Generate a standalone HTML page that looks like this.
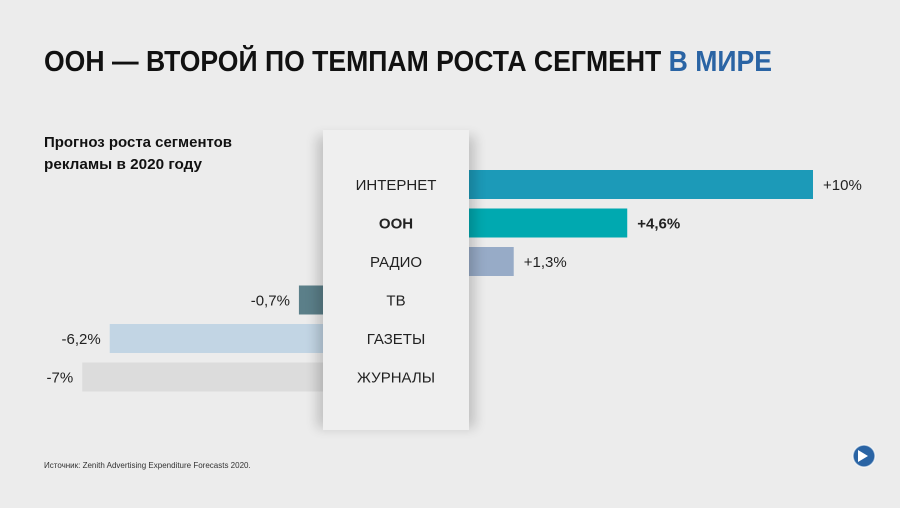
<!DOCTYPE html>
<html><head><meta charset="utf-8"><style>
body{margin:0;background:#ececec;}
svg{display:block;font-family:"Liberation Sans",sans-serif;}
</style></head><body>
<svg width="900" height="508" viewBox="0 0 900 508">
<defs><filter id="sh" x="-30%" y="-10%" width="160%" height="120%"><feGaussianBlur stdDeviation="6"/></filter></defs>
<rect width="900" height="508" fill="#ececec"/>
<text x="44" y="71" font-size="29" font-weight="bold" fill="#111" textLength="728" lengthAdjust="spacingAndGlyphs">ООН — ВТОРОЙ ПО ТЕМПАМ РОСТА СЕГМЕНТ <tspan fill="#2a64a4">В МИРЕ</tspan></text>
<text x="44" y="147" font-size="15" font-weight="bold" fill="#111" textLength="188" lengthAdjust="spacingAndGlyphs">Прогноз роста сегментов</text>
<text x="44" y="169" font-size="15" font-weight="bold" fill="#111" textLength="158" lengthAdjust="spacingAndGlyphs">рекламы в 2020 году</text>
<g id="bars"></g>
<rect x="317" y="136" width="158" height="292" fill="#000" opacity="0.18" filter="url(#sh)"/>
<rect x="323" y="130" width="146" height="300" fill="#efefef"/>
<g id="labels"></g>
<text x="44" y="468" font-size="8" fill="#333">Источник: Zenith Advertising Expenditure Forecasts 2020.</text>
<g><circle cx="864" cy="456" r="11" fill="#2a64a4"/><path d="M858 450 L868 456 L858 462 Z" fill="#fff"/><circle cx="864" cy="456" r="11" fill="none" stroke="#fff" stroke-width="1.5" opacity="0.6"/></g>
</svg>
<script>
const categories=["ИНТЕРНЕТ","ООН","РАДИО","ТВ","ГАЗЕТЫ","ЖУРНАЛЫ"];
const values=[10,4.6,1.3,-0.7,-6.2,-7];
const valueLabels=["+10%","+4,6%","+1,3%","-0,7%","-6,2%","-7%"];
const colors=["#1c9ab8","#00a9b0","#97abc7","#5b7f89","#c2d5e4","#dcdcdc"];
const NS="http://www.w3.org/2000/svg";
const scale=34.4, posZero=469, negZero=323;
const rowY=i=>170+i*38.5, barH=29;
const bars=document.getElementById('bars'), labels=document.getElementById('labels');
function mk(t,a){const e=document.createElementNS(NS,t);for(const k in a)e.setAttribute(k,a[k]);return e;}
values.forEach((v,i)=>{
  const w=Math.abs(v)*scale, y=rowY(i);
  const x=v>=0?posZero:negZero-w;
  const r=mk('rect',{x:x,y:y,width:w,height:barH,fill:colors[i]});
  
  
  bars.appendChild(r);
  const bold=i===1;
  const t=mk('text',{x:v>=0?x+w+10:x-9,y:y+20,'font-size':15,fill:'#222','text-anchor':v>=0?'start':'end','font-weight':bold?'bold':'normal'});
  t.textContent=valueLabels[i];
  
  
  bars.appendChild(t);
  const c=mk('text',{x:396,y:y+20,'font-size':15,fill:'#222','text-anchor':'middle','font-weight':bold?'bold':'normal'});
  c.textContent=categories[i];
  
  
  labels.appendChild(c);
});
</script>
</body></html>
